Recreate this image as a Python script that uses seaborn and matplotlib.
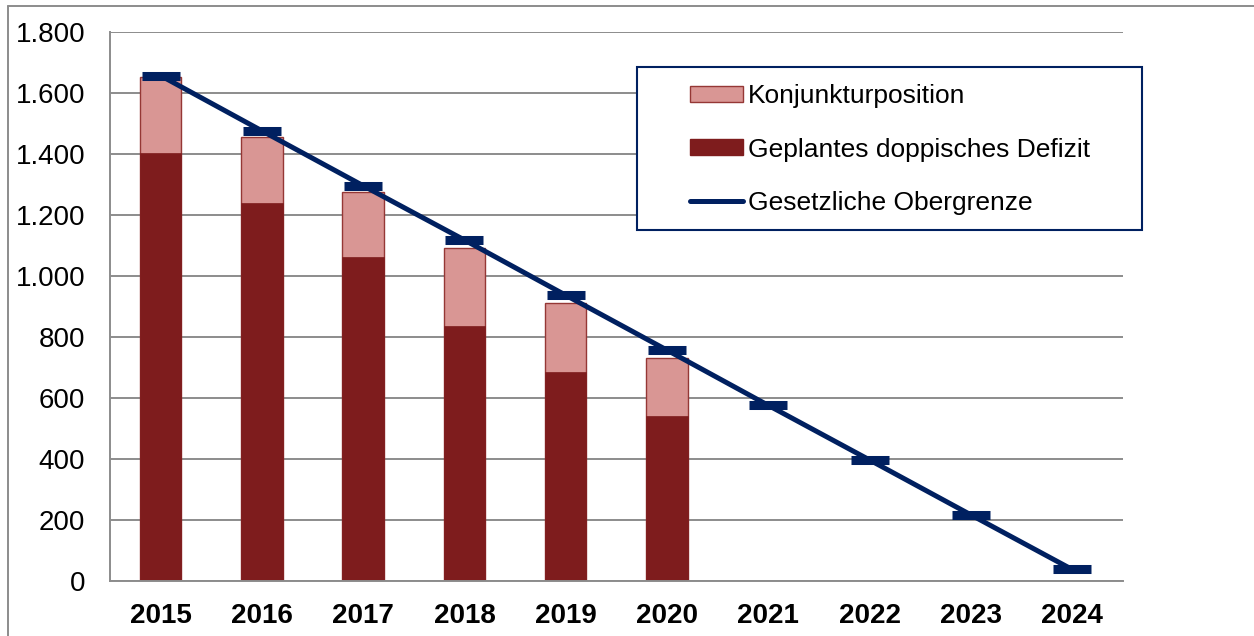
import matplotlib.pyplot as plt
from matplotlib.lines import Line2D
from matplotlib.patches import Patch, Rectangle
from matplotlib.ticker import FuncFormatter, FixedLocator
import numpy as np
import pandas as pd
import seaborn as sns

years = ["2015", "2016", "2017", "2018", "2019", "2020", "2021", "2022", "2023", "2024"]
bar_years = ["2015", "2016", "2017", "2018", "2019", "2020"]
defizit = [1402, 1239, 1062, 836, 684, 541]
konjunktur = [250, 216, 212, 256, 227, 190]
obergrenze = [1656, 1475, 1295, 1117, 936, 756, 575, 396, 216, 37]

labels = ["Konjunkturposition", "Geplantes doppisches Defizit", "Gesetzliche Obergrenze"]

dark_red = "#7e1c1d"
pink = "#d99694"
pink_edge = "#953735"
navy = "#002060"
grid_gray = "#8c8c8c"

df = pd.DataFrame({"Jahr": bar_years, "Defizit": defizit, "Konjunktur": konjunktur})
df["Gesamt"] = df["Defizit"] + df["Konjunktur"]

sns.set_style("white")
plt.rcParams["font.family"] = ["Liberation Sans", "DejaVu Sans"]
plt.rcParams["text.color"] = "black"
plt.rcParams["xtick.labelcolor"] = "black"
plt.rcParams["ytick.labelcolor"] = "black"

fig = plt.figure(figsize=(12.54, 6.36), dpi=100)
ax = fig.add_axes([110 / 1254, 1 - 580.7 / 636, (1122.7 - 110) / 1254, (580.7 - 31.7) / 636])

# stacked look: full height in pink, deficit drawn over it
sns.barplot(data=df, x="Jahr", y="Gesamt", order=years, color=pink, saturation=1,
            width=0.41, edgecolor=pink_edge, linewidth=1.0, ax=ax, zorder=2)
sns.barplot(data=df, x="Jahr", y="Defizit", order=years, color=dark_red, saturation=1,
            width=0.41, edgecolor=dark_red, linewidth=0.5, ax=ax, zorder=3)

sns.lineplot(x=np.arange(len(years)), y=obergrenze, color=navy, linewidth=3.6,
             marker="_", markersize=28, markeredgewidth=6.5, markeredgecolor=navy,
             ax=ax, zorder=4)

ax.set_xlim(-0.5, len(years) - 0.5)
ax.set_ylim(0, 1800)
ax.set_yticks(range(0, 1801, 200))
ax.yaxis.set_major_formatter(FuncFormatter(lambda v, p: f"{int(v):,}".replace(",", ".")))
ax.set_xticks(range(len(years)))
ax.set_xticklabels(years, fontsize=20, fontweight="bold", color="black")
ax.xaxis.set_minor_locator(FixedLocator(np.arange(-0.5, len(years), 1.0)))
ax.tick_params(axis="x", which="major", length=0, pad=16)
ax.tick_params(axis="x", which="minor", length=6, width=1.3, color=grid_gray, direction="out")
ax.tick_params(axis="y", length=6, width=1.3, color=grid_gray, direction="out", pad=12,
               labelsize=20, labelcolor="black")
ax.set_xlabel("")
ax.set_ylabel("")

ax.grid(axis="y", color=grid_gray, linewidth=1.4, zorder=0)
ax.set_axisbelow(True)
for side in ["top", "right"]:
    ax.spines[side].set_visible(False)
for side in ["left", "bottom"]:
    ax.spines[side].set_color(grid_gray)
    ax.spines[side].set_linewidth(1.4)
    ax.spines[side].set_zorder(5)

# outer chart border (only top and left are inside the picture)
fig.add_artist(Line2D([8 / 1254, 8 / 1254], [0, 1 - 6.3 / 636], color=grid_gray, lw=1.4,
                      transform=fig.transFigure))
fig.add_artist(Line2D([8 / 1254, 1], [1 - 6.3 / 636, 1 - 6.3 / 636], color=grid_gray, lw=1.4,
                      transform=fig.transFigure))

# legend frame, white filled so the gridlines stop at it
fig.add_artist(Rectangle((637 / 1254, 1 - 230 / 636), (1142 - 637) / 1254, (230 - 67) / 636,
                         transform=fig.transFigure, facecolor="white", edgecolor=navy,
                         lw=1.5, zorder=6))
handles = [
    Patch(facecolor=pink, edgecolor=pink_edge, linewidth=1.0),
    Patch(facecolor=dark_red, edgecolor=dark_red),
    Line2D([], [], color=navy, linewidth=3.6, solid_capstyle="round"),
]
leg = fig.legend(handles, labels, loc="upper left", bbox_to_anchor=(690 / 1254, 1 - 84 / 636),
                 frameon=False, fontsize=19, borderpad=0, borderaxespad=0, handlelength=2.0,
                 handleheight=0.55, handletextpad=0.2, labelspacing=1.12)
leg.set_zorder(7)
for t in leg.get_texts():
    t.set_color("black")

fig.savefig("out.png", dpi=100)
